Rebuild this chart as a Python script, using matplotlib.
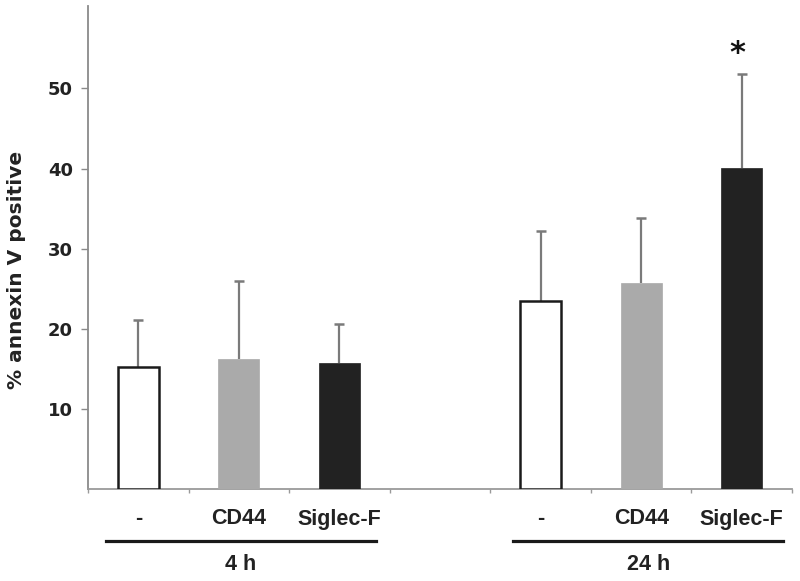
import matplotlib
matplotlib.use("Agg")
import matplotlib.pyplot as plt
from matplotlib.transforms import blended_transform_factory
from matplotlib.lines import Line2D

# ---- data ----
treatments = ["-", "CD44", "Siglec-F"]
groups = ["4 h", "24 h"]
values_4h = [15.2, 16.3, 15.8]
errors_4h = [5.9, 9.7, 4.8]
values_24h = [23.5, 25.7, 40.1]
errors_24h = [8.7, 8.1, 11.7]
significant_24h = [False, False, True]
yticks = [10, 20, 30, 40, 50]

bar_colors = ["white", "#aaaaaa", "#222222"]
edge_colors = ["#1a1a1a", "#aaaaaa", "#222222"]

fig = plt.figure(figsize=(8.0, 5.81), dpi=100)
ax = fig.add_axes([0.11, 0.1578, 0.88, 0.8324])

# positions: 3 bars, empty slot, 3 bars
pos_4h = [0, 1, 2]
pos_24h = [4, 5, 6]
width = 0.41
err_color = "#7a7a7a"

for pos, vals, errs in [(pos_4h, values_4h, errors_4h), (pos_24h, values_24h, errors_24h)]:
    for i, (p, v, e) in enumerate(zip(pos, vals, errs)):
        lw = 1.8 if i == 0 else 0.5
        ax.bar(p, v, width=width, color=bar_colors[i], edgecolor=edge_colors[i],
               linewidth=lw, zorder=3)
        ax.vlines(p, v, v + e, color=err_color, linewidth=1.6, zorder=2)
        ax.plot([p], [v + e], marker="_", markersize=7, markeredgewidth=1.8,
                color=err_color, zorder=2)

for p, v, e, s in zip(pos_24h, values_24h, errors_24h, significant_24h):
    if s:
        ax.annotate("*", xy=(p, v + e), xytext=(-3, 4), textcoords="offset points",
                    ha="center", va="bottom", fontsize=22, fontweight="bold",
                    family="DejaVu Sans", color="#111111")

ax.set_xlim(-0.5, 6.5)
ax.set_ylim(0, 60.3)

for s in ["top", "right"]:
    ax.spines[s].set_visible(False)
ax.spines["left"].set_color("#8a8a8a")
ax.spines["left"].set_linewidth(1.3)
ax.spines["bottom"].set_color("#9a9a9a")
ax.spines["bottom"].set_linewidth(1.3)

ax.set_yticks(yticks)
ax.set_yticklabels([str(t) for t in yticks], fontsize=13, fontweight="bold",
                   family="DejaVu Sans", color="#222222")
ax.tick_params(axis="y", direction="out", length=5, width=1, color="#8a8a8a", pad=6)

ax.set_xticks([x - 0.5 for x in range(8)])
ax.set_xticklabels([])
ax.tick_params(axis="x", direction="out", length=3, width=1, color="#9a9a9a")

ax.set_ylabel("% annexin V positive", fontsize=14.5, fontweight="bold",
              family="DejaVu Sans", color="#222222")
ax.yaxis.set_label_coords(-0.088, 0.453)

trans = blended_transform_factory(ax.transData, fig.transFigure)
for pos in (pos_4h, pos_24h):
    for p, t in zip(pos, treatments):
        ax.text(p, 1 - 519 / 581, t, transform=trans, ha="center", va="center",
                fontsize=15.5, fontweight="bold", family="Liberation Sans",
                color="#222222")

group_spans = [(-0.32, 2.36), (3.73, 6.41)]
for (x0, x1), g in zip(group_spans, groups):
    ln = Line2D([x0, x1], [1 - 541 / 581] * 2, transform=trans, color="#1a1a1a",
                linewidth=2.3, clip_on=False)
    fig.add_artist(ln)
    ax.text((x0 + x1) / 2, 1 - 564 / 581, g, transform=trans, ha="center",
            va="center", fontsize=15.5, fontweight="bold", family="Liberation Sans",
            color="#222222")

fig.savefig("out.png", dpi=100)
